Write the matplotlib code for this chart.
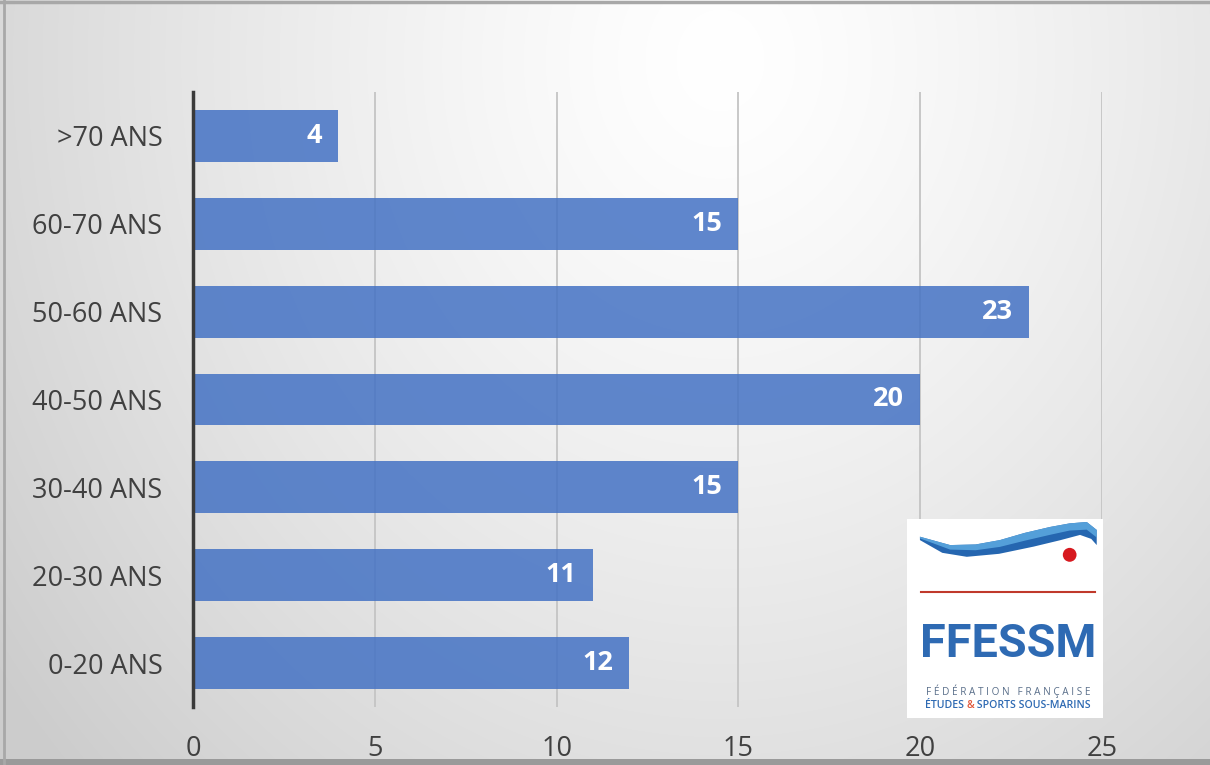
import numpy as np
import matplotlib
matplotlib.use("Agg")
import matplotlib.pyplot as plt
import matplotlib.patches as patches

# data
categories = ["0-20 ANS", "20-30 ANS", "30-40 ANS", "40-50 ANS", "50-60 ANS", "60-70 ANS", ">70 ANS"]
values = [12, 11, 15, 20, 23, 15, 4]
x_ticks = [0, 5, 10, 15, 20, 25]

plt.rcParams['font.family'] = ['Open Sans', 'DejaVu Sans']

W, H = 1210, 765
fig = plt.figure(figsize=(W / 100, H / 100), dpi=100)

# background radial gradient
bg = fig.add_axes([0, 0, 1, 1], zorder=-10)
yy, xx = np.mgrid[0:H, 0:W]
r = np.sqrt(((xx - 720) / 650.0) ** 2 + ((yy - 60) / 750.0) ** 2)
v = np.clip(1 - 0.13 * r ** 1.3, 0.8, 1.0)
img = np.dstack([v, v, v])
bg.imshow(img, extent=[0, W, H, 0], aspect='auto', interpolation='bilinear')
bg.set_xlim(0, W)
bg.set_ylim(H, 0)
bg.axis('off')
# frame edges
bg.plot([0, W], [2, 2], color='#a8a8a8', lw=2.5)
bg.plot([4, 4], [0, H], color='#a8a8a8', lw=2)
bg.add_patch(patches.Rectangle((0, 759), W, 6, color='#9a9a9a', lw=0))

# main chart
ax = fig.add_axes([193 / W, 58 / H, 909 / W, 615 / H])
ax.set_facecolor('none')
y = np.arange(len(categories))
bars = ax.barh(y, values, height=0.59, color='#4472C4', alpha=0.85, zorder=3)
ax.set_xlim(0, 25)
ax.set_ylim(-0.5, len(categories) - 0.5)
ax.set_xticks(x_ticks)
ax.set_yticks(y)
ax.set_yticklabels(categories)
ax.grid(axis='x', color='#c4c4c4', lw=1.3, zorder=0)
for s in ['top', 'right', 'bottom']:
    ax.spines[s].set_visible(False)
ax.spines['left'].set_color('#3a3a3a')
ax.spines['left'].set_linewidth(2.5)
ax.spines['left'].set_zorder(4)
ax.tick_params(axis='both', length=0, labelsize=19.5, colors='#404040')
ax.tick_params(axis='x', pad=20)
ax.tick_params(axis='y', pad=22)

for yi, val in zip(y, values):
    ax.text(val - 0.45, yi, str(val), ha='right', va='center', color='white',
            fontsize=19.5, fontweight='bold', zorder=5)

# logo
lg = fig.add_axes([907 / W, 47 / H, 196 / W, 199 / H], zorder=6)
lg.set_xlim(0, 1)
lg.set_ylim(0, 1)
lg.set_facecolor('white')
lg.set_xticks([])
lg.set_yticks([])
for s in lg.spines.values():
    s.set_visible(False)

# swoosh outline (logo fractions)
low_x = [0.066, 0.18, 0.305, 0.47, 0.645, 0.78, 0.883, 0.94, 0.968]
low_y = [0.894, 0.83, 0.81, 0.825, 0.861, 0.893, 0.92, 0.9, 0.869]
up_x = [0.066, 0.22, 0.35, 0.474, 0.6, 0.73, 0.83, 0.917, 0.968]
up_y = [0.911, 0.869, 0.872, 0.894, 0.93, 0.96, 0.978, 0.985, 0.945]
lg.fill(low_x + up_x[::-1], low_y + up_y[::-1], color='#2566b0', lw=0)
mid_y = [(a + b) / 2 for a, b in zip(np.interp(up_x, low_x, low_y), up_y)]
lg.fill(up_x + up_x[::-1], up_y + mid_y[::-1], color='#5aa6de', lw=0, alpha=0.9)
lg.add_patch(patches.Ellipse((0.83, 0.82), 0.07, 0.07, color='#d7191f', lw=0))
lg.plot([0.07, 0.96], [0.635, 0.635], color='#c0392b', lw=1.5)

# FFESSM word, sized to fit the logo width
word = lg.text(0.515, 0.37, "FFESSM", ha='center', va='center', color='#2e6ab3',
               fontsize=40, fontweight='bold', fontstretch='condensed',
               family=['Roboto', 'DejaVu Sans'])
renderer = fig.canvas.get_renderer()
wpx = word.get_window_extent(renderer).width
word.set_fontsize(40 * 176 / wpx)

lg.text(0.515, 0.132, "F É D É R A T I O N   F R A N Ç A I S E", ha='center', va='center',
        color='#5a6f8a', fontsize=7.2)
# second line with red ampersand
line2 = ["ÉTUDES ", "&", " SPORTS SOUS-MARINS"]
line2_col = ['#2e6ab3', '#e0573a', '#2e6ab3']
parts = []
for s, c in zip(line2, line2_col):
    parts.append(lg.text(0, 0.062, s, ha='left', va='center', color=c,
                         fontsize=7.6, fontweight='semibold'))
widths = [p.get_window_extent(renderer).width for p in parts]
x0 = 0.515 * 196 - sum(widths) / 2
for p, wd in zip(parts, widths):
    p.set_x(x0 / 196)
    x0 += wd

fig.savefig("out.png", dpi=100)
